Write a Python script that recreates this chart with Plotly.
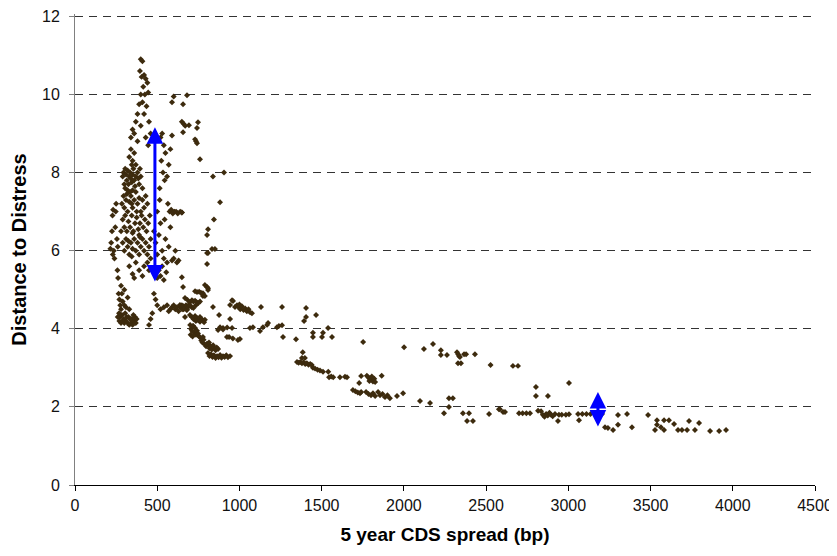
import plotly.graph_objects as go

# ---- Data (5y CDS spread in bp, Distance to Distress) ----
# Cluster 1: low spreads, left edge of the dense cloud
cds_1 = [215, 220, 225, 228, 232, 236, 240, 245, 250, 255, 258, 262, 230, 248, 260,
         265, 270, 275, 280, 268, 272,
         260, 270, 280, 290, 300, 310, 320, 330, 340, 350, 360, 370, 285, 305, 325, 345, 365,
         295, 315, 335, 355, 375,
         285, 290, 300, 310, 320, 330, 300, 280]
dd_1 = [6.05, 6.2, 6.5, 6.9, 7.05, 6.0, 5.8, 6.6, 7.2, 6.3, 5.5, 5.3, 5.9, 7.0, 6.1,
        4.9, 4.75, 4.6, 4.5, 4.4, 4.3,
        4.3, 4.2, 4.15, 4.2, 4.15, 4.2, 4.15, 4.1, 4.15, 4.1, 4.2, 4.15, 4.35, 4.4, 4.3, 4.25, 4.3,
        4.25, 4.3, 4.25, 4.35, 4.25,
        4.9, 4.7, 4.6, 4.55, 4.8, 4.5, 5.0, 5.1]

# Cluster 2: main mass 280-460 bp
cds_2 = [330, 340, 350, 360, 345, 370,
         290, 295, 300, 305, 310, 315, 320, 325, 330, 335, 340, 345, 350, 355, 360, 365, 370,
         380, 390, 400, 410, 385, 305, 320, 335, 350, 395,
         285, 295, 300, 310, 320, 330, 340, 350, 360, 370, 380, 390, 400, 410, 420, 430, 440,
         315, 345, 375,
         280, 290, 300, 305, 315, 325, 335, 345, 355, 365, 375, 385, 395, 405, 415, 425, 435,
         445, 455, 390, 350,
         290, 300, 310, 320, 330, 340, 350, 360, 370, 380, 390, 400, 410, 420, 430, 440, 450,
         460, 395, 325, 345,
         330, 350, 370, 390, 410, 420, 440, 450, 460, 360]
dd_2 = [8.4, 8.6, 8.3, 8.5, 8.2, 8.2,
        7.9, 8.0, 7.7, 8.1, 7.95, 7.8, 8.05, 7.7, 7.9, 8.0, 7.85, 7.75, 7.95, 8.1, 7.8, 7.65, 7.9,
        8.0, 7.7, 7.9, 7.6, 7.85, 7.6, 7.55, 7.5, 7.55, 8.1,
        7.2, 7.4, 7.1, 7.3, 7.0, 7.25, 7.4, 7.1, 7.3, 7.5, 7.2, 7.35, 7.0, 7.3, 7.1, 7.4, 7.2,
        7.45, 7.2, 7.0,
        6.5, 6.8, 6.6, 6.9, 6.5, 6.75, 6.6, 6.9, 6.5, 6.7, 6.85, 6.55, 6.7, 6.9, 6.6, 6.8, 6.5,
        6.7, 6.9, 6.4, 6.45,
        6.2, 6.0, 6.3, 6.1, 5.9, 6.2, 6.05, 6.3, 6.0, 6.2, 5.9, 6.1, 6.3, 6.0, 6.2, 5.9, 6.1,
        6.3, 6.35, 6.25, 5.85,
        5.6, 5.4, 5.7, 5.5, 5.35, 5.6, 5.7, 5.5, 5.8, 5.3]

# Cluster 3: the peak (DD 8.6-10.9)
cds_3 = [400, 410, 395, 420, 430, 440, 405, 415, 400, 425, 445, 390, 410, 435, 380, 420,
         450, 370, 400, 460, 350, 340, 360, 380, 430, 445]
dd_3 = [10.9, 10.85, 10.6, 10.5, 10.4, 10.3, 10.45, 10.2, 10.0, 10.0, 10.05, 9.75, 9.8, 9.7,
        9.5, 9.5, 9.3, 9.3, 9.2, 9.0, 9.1, 8.9, 9.0, 8.8, 8.9, 8.7]

# Cluster 4: 450-700 bp
cds_4 = [520, 530, 540, 550, 525, 535, 545, 560, 570, 515, 580, 590, 590, 600,
         565, 575, 585, 595, 605, 615, 625, 640, 650,
         480, 490, 500, 510, 520, 530, 540, 550, 560, 570, 580, 590, 600, 610, 620, 630, 545,
         500, 515,
         490, 500, 510, 520, 530, 540, 555,
         480, 490, 500, 520, 540, 560, 570, 580, 590, 600, 610, 620, 630, 640, 650, 660, 670,
         680, 690, 470, 460, 450]
dd_4 = [8.9, 9.0, 8.7, 8.5, 8.3, 8.0, 7.8, 7.9, 8.2, 7.6, 8.6, 8.95, 9.8, 9.95,
        7.2, 7.0, 7.05, 6.95, 7.0, 7.0, 6.95, 7.0, 6.98,
        6.5, 6.2, 5.9, 6.4, 6.7, 6.0, 5.8, 6.3, 5.7, 6.1, 6.6, 5.75, 5.8, 6.0, 5.7, 5.75, 6.8,
        7.0, 7.3,
        5.4, 5.3, 5.5, 5.35, 5.6, 5.25, 5.45,
        4.9, 4.75, 4.6, 4.5, 4.55, 4.6, 4.45, 4.5, 4.55, 4.6, 4.5, 4.55, 4.45, 4.55, 4.6, 4.5,
        4.55, 4.48, 4.6, 4.4, 4.25, 4.1]

# Cluster 5: 640-950 bp
cds_5 = [681, 657, 650, 660, 670, 693, 748, 742, 657, 730, 736, 742, 760, 839, 906, 882,
         650, 845, 809, 803, 833, 851, 803, 809, 803, 650, 657,
         730, 742, 755, 766, 778, 803, 809, 790, 809, 778, 790, 669, 684, 699,
         638, 645, 652, 660, 668, 675, 681, 687, 711, 720, 730, 740, 750, 760, 699, 710, 720,
         735, 839, 876, 669, 699, 710, 720, 730, 740, 750, 760, 770, 780, 790,
         700, 705, 712, 718, 725, 730, 736, 742, 748, 755, 703, 715,
         760, 768, 775, 782, 790, 797, 803, 778,
         810, 818, 825, 832, 840, 848, 855, 862, 870, 815,
         809, 818, 827, 836, 845, 855, 864, 873, 882, 891, 900, 910, 920, 930, 943,
         735, 760, 785]
dd_5 = [9.98, 9.75, 9.3, 9.25, 9.2, 9.21, 9.29, 9.14, 9.03, 8.85, 8.8, 8.75, 8.34, 7.9, 8.0,
        7.24, 6.98, 6.8, 6.55, 6.4, 6.04, 6.04, 5.94, 5.94, 5.66, 5.32, 5.07,
        4.96, 4.94, 4.95, 4.92, 4.91, 5.07, 4.99, 5.12, 5.04, 4.84, 4.84, 4.79, 4.74, 4.68,
        4.61, 4.55, 4.5, 4.58, 4.52, 4.6, 4.49, 4.55, 4.73, 4.7, 4.72, 4.68, 4.66, 4.7, 4.6,
        4.55, 4.53, 4.6, 4.56, 4.35, 4.3, 4.35, 4.3, 4.25, 4.33, 4.28, 4.22, 4.3, 4.25, 4.2,
        4.23,
        4.1, 4.0, 3.95, 4.08, 3.9, 4.02, 3.85, 3.95, 3.88, 3.8, 3.85, 3.8,
        3.78, 3.7, 3.65, 3.72, 3.6, 3.55, 3.62, 3.79,
        3.6, 3.5, 3.55, 3.47, 3.58, 3.5, 3.45, 3.52, 3.48, 3.65,
        3.38, 3.3, 3.35, 3.28, 3.32, 3.25, 3.3, 3.27, 3.33, 3.26, 3.3, 3.28, 3.32, 3.27, 3.3,
        4.2, 4.18, 4.17]

# Cluster 6: 870-1660 bp
cds_6 = [882, 900, 925, 955, 937, 960, 991, 924, 1003, 955, 943, 973, 961, 985, 995, 1005,
         1015, 1025, 1035, 1045, 1055, 1065, 1076, 1000, 1131, 1064, 1082, 1125, 1143, 1168,
         1174, 1228, 1240, 1259, 1259, 1265, 1344, 1405, 1405, 1393, 1466, 1447, 1447, 1508,
         1502, 1539, 1563, 943, 870, 900,
         1350, 1360, 1370, 1380, 1390, 1400, 1410, 1420, 1430, 1440, 1385, 1380, 1398, 1447,
         1460, 1475, 1490, 1508, 1540, 1545, 1558, 1570, 1611, 1642, 1654]
dd_6 = [4.04, 4.02, 4.03, 4.02, 3.79, 3.75, 3.71, 3.79, 3.74, 4.73, 4.61, 4.56, 4.71, 4.6,
        4.55, 4.5, 4.58, 4.48, 4.52, 4.45, 4.5, 4.42, 4.4, 4.62, 4.56, 4.02, 4.04, 3.94, 4.04,
        4.1, 4.15, 4.04, 4.07, 4.09, 4.56, 3.79, 3.73, 4.53, 4.3, 4.2, 4.35, 3.9, 3.79, 3.9,
        3.79, 4.02, 3.79, 4.25, 3.97, 3.98,
        3.15, 3.13, 3.15, 3.12, 3.14, 3.1, 3.12, 3.08, 3.1, 3.07, 3.4, 3.25, 3.25, 3.0,
        2.98, 2.95, 2.93, 2.9, 2.9, 2.76, 2.78, 2.76, 2.76, 2.77, 2.76]

# Cluster 7: 1690-2530 bp
cds_7 = [1752, 1740, 1728, 1740, 1775, 1785, 1795, 1805, 1812, 1820, 1825, 1790, 1865,
         1690, 1705, 1720, 1733, 1770, 1785, 1800, 1812, 1825, 1843, 1855, 1870, 1885, 1900,
         1915, 1958, 1995,
         2001, 2098, 2159, 2122, 2177, 2225, 2225, 2262, 2323, 2330, 2335, 2341, 2329, 2347,
         2366, 2378, 2432, 2244, 2274, 2298, 2274, 2359, 2396, 2384, 2420, 2518, 2578, 2527]
dd_7 = [3.66, 2.79, 2.61, 2.38, 2.8, 2.75, 2.7, 2.78, 2.65, 2.72, 2.64, 2.66, 2.8,
        2.43, 2.4, 2.37, 2.35, 2.38, 2.33, 2.3, 2.35, 2.28, 2.38, 2.3, 2.33, 2.25, 2.3,
        2.22, 2.28, 2.35,
        3.53, 2.15, 2.1, 3.48, 3.61, 3.45, 3.33, 3.33, 3.4, 3.35, 3.3, 3.28, 3.12, 3.12,
        3.35, 3.35, 3.35, 1.84, 2.22, 2.22, 2.0, 1.84, 1.84, 1.64, 1.64, 1.82, 1.94, 3.07]

# Cluster 8: 2580-3960 bp
cds_8 = [2663, 2694, 2803, 2803, 2876, 3004, 2584, 2603, 2615, 2700, 2722, 2745, 2767, 2816,
         2834, 2845, 2855, 2865, 2875, 2885, 2895, 2905, 2919, 2937, 2943, 2960, 2985, 3004,
         3059, 3085, 3110, 3135, 3162, 3065, 3205, 3223, 3241, 3272, 3302, 3302, 3357, 3387,
         3485, 3539, 3539, 3527, 3582, 3582, 3563, 3612, 3643, 3667, 3691, 3722, 3734, 3770,
         3795, 3862, 3917, 3959]
dd_8 = [3.05, 3.05, 2.51, 2.28, 2.28, 2.61, 1.94, 1.87, 1.87, 1.84, 1.84, 1.84, 1.84, 1.9,
        1.89, 1.8, 1.75, 1.82, 1.78, 1.85, 1.8, 1.76, 1.82, 1.64, 1.8, 1.8, 1.8, 1.81,
        1.82, 1.82, 1.82, 1.82, 1.82, 1.66, 1.82, 1.48, 1.46, 1.41, 1.79, 1.54, 1.82, 1.48,
        1.79, 1.66, 1.54, 1.41, 1.66, 1.41, 1.48, 1.66, 1.56, 1.41, 1.41, 1.41, 1.64, 1.41,
        1.59, 1.38, 1.38, 1.41]

# Double-headed range arrows
arrow_x = [486, 3180]
arrow_top = [9.16, 2.38]
arrow_bottom = [5.17, 1.46]

x_ticks = [0, 500, 1000, 1500, 2000, 2500, 3000, 3500, 4000, 4500]
y_ticks = [0, 2, 4, 6, 8, 10, 12]

cds = cds_1 + cds_2 + cds_3 + cds_4 + cds_5 + cds_6 + cds_7 + cds_8
dd = dd_1 + dd_2 + dd_3 + dd_4 + dd_5 + dd_6 + dd_7 + dd_8

FONT = "Liberation Sans, Arial, sans-serif"

fig = go.Figure()
fig.add_trace(go.Scatter(
    x=cds, y=dd, mode="markers",
    marker=dict(symbol="diamond", size=4.6, color="#3d2b0e", line=dict(width=0)),
    showlegend=False, hoverinfo="x+y"))

for ax_, yt, yb in zip(arrow_x, arrow_top, arrow_bottom):
    fig.add_annotation(x=ax_, y=yt, ax=ax_, ay=yb, xref="x", yref="y", axref="x", ayref="y",
                       text="", showarrow=True, arrowhead=2, arrowside="end+start",
                       arrowsize=1.1, arrowwidth=3, arrowcolor="#0000ff", standoff=0,
                       startstandoff=0)

# the page body adds an 8px offset, so the figure is 8px smaller than the window
fig.update_layout(
    width=829, height=548,
    margin=dict(l=67, r=22, t=6, b=71),
    paper_bgcolor="white", plot_bgcolor="white",
    font=dict(family=FONT, size=16, color="black"),
    xaxis=dict(range=[0, 4500], tickvals=x_ticks, showgrid=False, zeroline=False,
               automargin=False, ticklabeloverflow="allow",
               showline=True, linecolor="black", linewidth=1,
               ticks="outside", ticklen=5, tickcolor="black", ticklabelstandoff=1,
               tickfont=dict(family=FONT, size=16, color="#111111"),
               title=dict(text="<b>5 year CDS spread (bp)</b>",
                          font=dict(family=FONT, size=19, color="black"), standoff=14)),
    yaxis=dict(range=[0, 12.06], tickvals=y_ticks, showgrid=True, gridcolor="#333333",
               griddash="8px,6px", gridwidth=1, zeroline=False,
               automargin=False, ticklabeloverflow="allow",
               showline=True, linecolor="#808080", linewidth=1,
               ticks="outside", ticklen=5, tickcolor="#808080", ticklabelstandoff=6,
               tickfont=dict(family=FONT, size=16, color="#111111"),
               title=dict(text="<b>Distance to Distress</b>",
                          font=dict(family=FONT, size=20, color="black"), standoff=12)),
)

fig.write_html("out.html")
